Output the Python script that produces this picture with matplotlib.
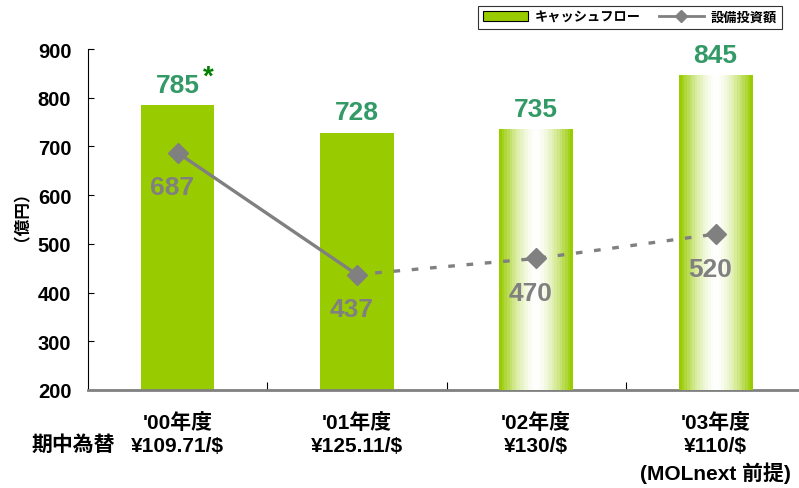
import numpy as np
import matplotlib.pyplot as plt
from matplotlib.lines import Line2D
from matplotlib.patches import Patch
from matplotlib.colors import to_rgb

plt.rcParams['font.family'] = ['Liberation Sans', 'Noto Sans CJK JP']
plt.rcParams['font.weight'] = 'bold'

# données
annees = ["'00年度", "'01年度", "'02年度", "'03年度"]
taux = ["¥109.71/$", "¥125.11/$", "¥130/$", "¥110/$"]
note_03 = "(MOLnext 前提)"
cash_flow = [785, 728, 735, 845]
investissement = [687, 437, 470, 520]
gradient_bar = [False, False, True, True]

vert = '#99CC00'
vert_txt = '#339966'
gris = '#808080'

fig = plt.figure(figsize=(7.99, 4.89), dpi=100)
ax = fig.add_axes([88/799, 98/489, 711/799, 341/489])

x = np.arange(len(annees))
largeur = 0.41
bars = ax.bar(x, cash_flow, width=largeur, color=vert, bottom=0, zorder=2)

# dégradé horizontal pour les barres prévisionnelles
t = np.linspace(0, 1, 28)
d = np.abs(2 * t - 1) ** 1.6
g = np.array(to_rgb(vert))
grad = (d[:, None] * g + (1 - d[:, None]) * np.ones(3))[None, :, :]
for bar, h, flag in zip(bars, cash_flow, gradient_bar):
    if flag:
        x0 = bar.get_x()
        ax.imshow(grad, extent=(x0, x0 + largeur, 200, h), aspect='auto',
                  interpolation='nearest', zorder=3)

# valeurs des barres
for xi, h in zip(x, cash_flow):
    ax.annotate(f'{h}', (xi, h), xytext=(0, 6), textcoords='offset points',
                ha='center', va='bottom', fontsize=19, color=vert_txt,
                fontweight='bold', zorder=6)
ax.annotate('*', (0, 785), xytext=(22, 11), textcoords='offset points',
            ha='center', va='bottom', fontsize=20, color='#008000',
            fontweight='bold', zorder=6)

# ligne d'investissement
ax.plot(x[:2], investissement[:2], color=gris, lw=2.4, zorder=4)
ax.plot(x[1:], investissement[1:], color=gris, lw=2.4, ls=(0, (2, 3.5)), zorder=4)
ax.plot(x, investissement, ls='none', marker='D', ms=10, color=gris, zorder=5)
for xi, v in zip(x, investissement):
    ax.annotate(f'{v}', (xi, v), xytext=(-4, -25), textcoords='offset points',
                ha='center', va='center', fontsize=19, color=gris,
                fontweight='bold', zorder=6)

ax.set_xlim(-0.5, -0.5 + 711 / 179.3)
ax.set_ylim(200, 900)
ax.set_yticks(range(200, 901, 100))
ax.tick_params(axis='y', direction='in', length=4.5, width=0.8, labelsize=14.5, pad=12)
ax.set_xticks(x)
ax.set_xticklabels([])
ax.tick_params(axis='x', which='major', length=0)
ax.set_xticks(x[:-1] + 0.5, minor=True)
ax.tick_params(axis='x', which='minor', direction='in', length=6, width=0.8)

for s in ['top', 'right']:
    ax.spines[s].set_visible(False)
ax.spines['left'].set_linewidth(0.8)
ax.spines['bottom'].set_color(gris)
ax.spines['bottom'].set_linewidth(2)

# étiquettes de l'axe x
tr = ax.get_xaxis_transform()
for xi, a, tx in zip(x, annees, taux):
    ax.text(xi, -0.093, a, transform=tr, ha='center', va='center', fontsize=15, fontweight='bold')
    ax.text(xi, -0.163, tx, transform=tr, ha='center', va='center', fontsize=15, fontweight='bold')
ax.text(3, -0.242, note_03, transform=tr, ha='center', va='center', fontsize=15, fontweight='bold')
fig.text(73/799, 1 - 445/489, '期中為替', ha='center', va='center', fontsize=15, fontweight='bold')

fig.text(13/799, 1 - 208/489, '（億円）', rotation=90, ha='center', va='center',
         fontsize=12, fontweight='bold')

handles = [Patch(facecolor=vert, edgecolor='black', linewidth=0.8),
           Line2D([], [], color=gris, lw=2, marker='D', ms=6)]
leg = fig.legend(handles, ['キャッシュフロー', '設備投資額'], ncol=2,
                 loc='upper right', bbox_to_anchor=(782/799, 1 - 7/489),
                 borderaxespad=0, fancybox=False, edgecolor='black',
                 prop={'size': 9.5, 'weight': 'bold'}, handlelength=3.4,
                 columnspacing=1.4, borderpad=0.4, handletextpad=0.5)
leg.get_frame().set_linewidth(0.8)

fig.savefig('out.png', dpi=100)
